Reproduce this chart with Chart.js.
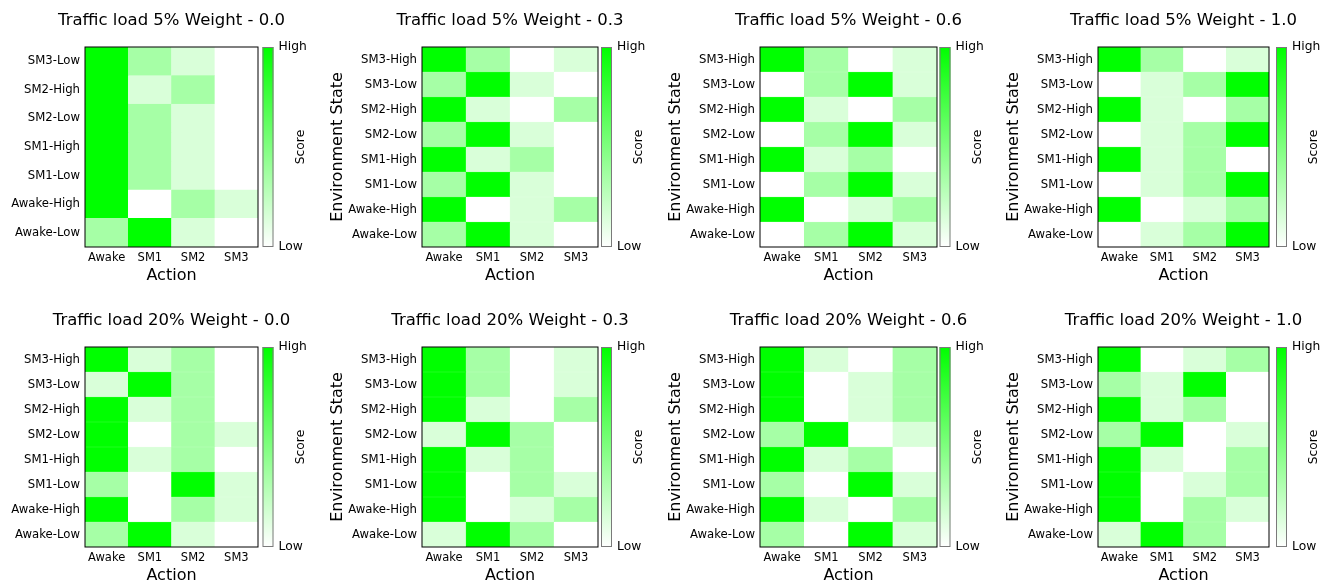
<!DOCTYPE html>
<html>
<head>
<meta charset="utf-8">
<script src="https://cdn.jsdelivr.net/npm/chart.js@4.4.0/dist/chart.umd.min.js"></script>
<style>
  html, body { margin: 0; padding: 0; background: #fff; width: 1333px; height: 583px; overflow: hidden; position: relative; }
  canvas { position: absolute; }
</style>
</head>
<body>
<script>
// columns of every heatmap
const actions = ['Awake', 'SM1', 'SM2', 'SM3'];

// row labels, top to bottom
const statesAll = ['SM3-High', 'SM3-Low', 'SM2-High', 'SM2-Low', 'SM1-High', 'SM1-Low', 'Awake-High', 'Awake-Low'];
const statesNoSM3High = ['SM3-Low', 'SM2-High', 'SM2-Low', 'SM1-High', 'SM1-Low', 'Awake-High', 'Awake-Low'];

// scores (0 = white, 1 = full green), rows top to bottom
const load5w00 = [
  [1, 0.35, 0.15, 0],
  [1, 0.15, 0.35, 0],
  [1, 0.35, 0.15, 0],
  [1, 0.35, 0.15, 0],
  [1, 0.35, 0.15, 0],
  [1, 0, 0.35, 0.15],
  [0.35, 1, 0.15, 0]
];
const load5w03 = [
  [1, 0.35, 0, 0.15],
  [0.35, 1, 0.15, 0],
  [1, 0.15, 0, 0.35],
  [0.35, 1, 0.15, 0],
  [1, 0.15, 0.35, 0],
  [0.35, 1, 0.15, 0],
  [1, 0, 0.15, 0.35],
  [0.35, 1, 0.15, 0]
];
const load5w06 = [
  [1, 0.35, 0, 0.15],
  [0, 0.35, 1, 0.15],
  [1, 0.15, 0, 0.35],
  [0, 0.35, 1, 0.15],
  [1, 0.15, 0.35, 0],
  [0, 0.35, 1, 0.15],
  [1, 0, 0.15, 0.35],
  [0, 0.35, 1, 0.15]
];
const load5w10 = [
  [1, 0.35, 0, 0.15],
  [0, 0.15, 0.35, 1],
  [1, 0.15, 0, 0.35],
  [0, 0.15, 0.35, 1],
  [1, 0.15, 0.35, 0],
  [0, 0.15, 0.35, 1],
  [1, 0, 0.15, 0.35],
  [0, 0.15, 0.35, 1]
];
const load20w00 = [
  [1, 0.15, 0.35, 0],
  [0.15, 1, 0.35, 0],
  [1, 0.15, 0.35, 0],
  [1, 0, 0.35, 0.15],
  [1, 0.15, 0.35, 0],
  [0.35, 0, 1, 0.15],
  [1, 0, 0.35, 0.15],
  [0.35, 1, 0.15, 0]
];
const load20w03 = [
  [1, 0.35, 0, 0.15],
  [1, 0.35, 0, 0.15],
  [1, 0.15, 0, 0.35],
  [0.15, 1, 0.35, 0],
  [1, 0.15, 0.35, 0],
  [1, 0, 0.35, 0.15],
  [1, 0, 0.15, 0.35],
  [0.15, 1, 0.35, 0]
];
const load20w06 = [
  [1, 0.15, 0, 0.35],
  [1, 0, 0.15, 0.35],
  [1, 0, 0.15, 0.35],
  [0.35, 1, 0, 0.15],
  [1, 0.15, 0.35, 0],
  [0.35, 0, 1, 0.15],
  [1, 0.15, 0, 0.35],
  [0.35, 0, 1, 0.15]
];
const load20w10 = [
  [1, 0, 0.15, 0.35],
  [0.35, 0.15, 1, 0],
  [1, 0.15, 0.35, 0],
  [0.35, 1, 0, 0.15],
  [1, 0.15, 0, 0.35],
  [1, 0, 0.15, 0.35],
  [1, 0, 0.35, 0.15],
  [0.15, 1, 0.35, 0]
];

const titles = [
  'Traffic load 5% Weight - 0.0', 'Traffic load 5% Weight - 0.3',
  'Traffic load 5% Weight - 0.6', 'Traffic load 5% Weight - 1.0',
  'Traffic load 20% Weight - 0.0', 'Traffic load 20% Weight - 0.3',
  'Traffic load 20% Weight - 0.6', 'Traffic load 20% Weight - 1.0'
];
const xTitle = 'Action';
const yTitle = 'Environment State';
const barTitle = 'Score';
const barTicks = ['Low', 'High'];

// layout of the 2x4 grid
const plotLeft = [85, 422, 760, 1098];
const plotRight = [258, 598, 937, 1269];
const barGap = [4.5, 3, 2.5, 7];
const rowTop = [0, 300];

const FONT = '"DejaVu Sans", Verdana, sans-serif';

const scoreColor = (t) => {
  const c = Math.round(255 * (1 - t));
  return `rgb(${c},255,${c})`;
};

// frame round the plot plus the colour bar on the right
const frameAndBar = {
  id: 'frameAndBar',
  afterDraw(chart, args, opts) {
    const { ctx, chartArea: a } = chart;
    const h = a.bottom - a.top;
    ctx.save();
    ctx.strokeStyle = '#000';
    ctx.lineWidth = 1;
    ctx.strokeRect(a.left, a.top, a.right - a.left, h);

    const x0 = a.right + opts.gap;
    const w = 11;
    const g = ctx.createLinearGradient(0, a.bottom, 0, a.top);
    g.addColorStop(0, scoreColor(0));
    g.addColorStop(1, scoreColor(1));
    ctx.fillStyle = g;
    ctx.fillRect(x0, a.top, w, h);
    ctx.strokeStyle = '#7a7a7a';
    ctx.strokeRect(x0 + 0.5, a.top + 0.5, w - 1, h - 1);

    ctx.fillStyle = '#000';
    ctx.font = '12.3px ' + FONT;
    ctx.textAlign = 'left';
    ctx.textBaseline = 'middle';
    ctx.fillText(barTicks[1], x0 + w + 5, a.top);
    ctx.fillText(barTicks[0], x0 + w + 5, a.bottom);

    ctx.translate(x0 + w + 27, (a.top + a.bottom) / 2);
    ctx.rotate(-Math.PI / 2);
    ctx.textAlign = 'center';
    ctx.fillText(barTitle, 0, 0);
    ctx.restore();
  }
};

const panels = [
  { scores: load5w00, states: statesNoSM3High },
  { scores: load5w03, states: statesAll },
  { scores: load5w06, states: statesAll },
  { scores: load5w10, states: statesAll },
  { scores: load20w00, states: statesAll },
  { scores: load20w03, states: statesAll },
  { scores: load20w06, states: statesAll },
  { scores: load20w10, states: statesAll }
];

panels.forEach((p, k) => {
  const col = k % 4;
  const row = Math.floor(k / 4);
  const left = plotLeft[col] - 100;
  const width = plotRight[col] - plotLeft[col] + 200;
  const height = 290;

  const canvas = document.createElement('canvas');
  canvas.width = width;
  canvas.height = height;
  canvas.style.left = left + 'px';
  canvas.style.top = rowTop[row] + 'px';
  canvas.style.width = width + 'px';
  canvas.style.height = height + 'px';
  document.body.appendChild(canvas);

  // stack from the bottom row up
  const labelsUp = p.states.slice().reverse();
  const scoresUp = p.scores.slice().reverse();

  const datasets = scoresUp.map((r, i) => ({
    label: labelsUp[i],
    data: actions.map(() => 1),
    backgroundColor: r.map(scoreColor),
    borderColor: r.map(scoreColor),
    borderWidth: 0.5,
    borderSkipped: false,
    barPercentage: 1,
    categoryPercentage: 1
  }));

  new Chart(canvas, {
    type: 'bar',
    data: { labels: actions, datasets: datasets },
    options: {
      responsive: false,
      animation: false,
      layout: { padding: { top: 11, left: 6, right: 6, bottom: 3 } },
      plugins: {
        legend: { display: false },
        tooltip: { enabled: false },
        title: {
          display: true,
          text: titles[k],
          color: '#000',
          font: { family: FONT, size: 16.5, weight: 'normal' },
          padding: { top: 0, bottom: 16.2 }
        },
        frameAndBar: { gap: barGap[col] }
      },
      scales: {
        x: {
          stacked: true,
          grid: { display: false, drawTicks: false },
          border: { display: false },
          ticks: {
            color: '#000', padding: 4, autoSkip: false,
            maxRotation: 0, minRotation: 0,
            font: { family: FONT, size: 11.5 }
          },
          title: {
            display: true, text: xTitle, color: '#000',
            font: { family: FONT, size: 16 }, padding: { top: 0, bottom: 1.5 }
          },
          afterFit: (s) => { s.height = 40; }
        },
        y: {
          stacked: true,
          min: 0,
          max: labelsUp.length,
          grid: { display: false, drawTicks: false },
          border: { display: false },
          afterBuildTicks: (s) => { s.ticks = labelsUp.map((_, i) => ({ value: i + 0.5 })); },
          ticks: {
            color: '#000', padding: 5, autoSkip: false,
            font: { family: FONT, size: 11.7 },
            callback: (v, i) => labelsUp[i]
          },
          title: {
            display: col !== 0, text: yTitle, color: '#000',
            font: { family: FONT, size: 16 }, padding: 0
          },
          afterFit: (s) => { s.width = 94; }
        },
        // empty room on the right, keeps the title centred over the plot
        bar: {
          position: 'right',
          grid: { display: false, drawTicks: false },
          border: { display: false },
          ticks: { display: false },
          afterFit: (s) => { s.width = 94; }
        }
      }
    },
    plugins: [frameAndBar]
  });
});
</script>
</body>
</html>
